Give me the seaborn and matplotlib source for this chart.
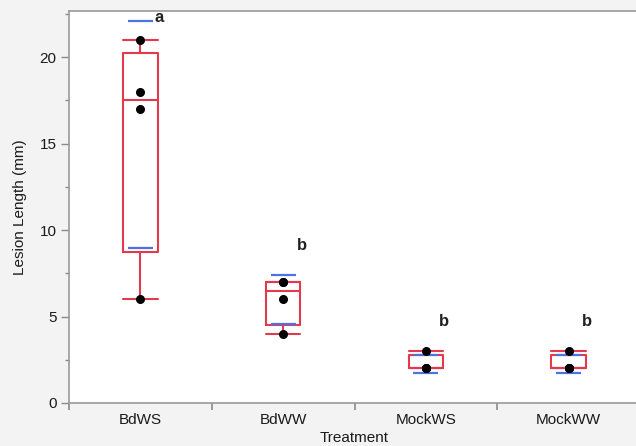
import numpy as np
import pandas as pd
import matplotlib
matplotlib.use("Agg")
from matplotlib import pyplot as plt
import seaborn as sns

treatments = ["BdWS", "BdWW", "MockWS", "MockWW"]
bdws = [6, 17, 18, 21]
bdww = [4, 6, 7, 7]
mockws = [2, 2, 2, 3]
mockww = [2, 2, 2, 3]
letters = ["a", "b", "b", "b"]

groups = [bdws, bdww, mockws, mockww]
df = pd.DataFrame({
    "Treatment": np.repeat(treatments, [len(g) for g in groups]),
    "Lesion": np.concatenate(groups),
})

red = "#e23a4c"
blue = "#4f72e3"

sns.set_style("white")
plt.rcParams["font.family"] = ["Liberation Sans", "DejaVu Sans"]

fig = plt.figure(figsize=(6.36, 4.46), dpi=100, facecolor="#f3f3f3")
ax = fig.add_axes([69 / 636, 43 / 446, 571 / 636, 392 / 446])
ax.set_facecolor("white")

# box stats, JMP style quantiles ((n+1)p)
stats = []
for name, g in zip(treatments, groups):
    g = np.array(g, dtype=float)
    q1, med, q3 = np.percentile(g, [25, 50, 75], method="weibull")
    iqr = q3 - q1
    lo = g[g >= q1 - 1.5 * iqr].min()
    hi = g[g <= q3 + 1.5 * iqr].max()
    stats.append(dict(label=name, q1=q1, med=med, q3=q3, whislo=lo, whishi=hi, fliers=[]))

lp = dict(color=red, linewidth=1.5)
ax.bxp(stats, positions=range(len(groups)), widths=0.24, capwidths=0.24,
       showfliers=False, boxprops=lp, whiskerprops=lp, capprops=lp, medianprops=lp,
       manage_ticks=False)

# mean +/- 1 sd lines
for i, g in enumerate(groups):
    m, s = np.mean(g), np.std(g, ddof=1)
    ax.hlines([m - s, m + s], i - 0.088, i + 0.088, color=blue, linewidth=1.6, zorder=3)

sns.stripplot(data=df, x="Treatment", y="Lesion", order=treatments, jitter=False,
              color="black", size=6.5, ax=ax, zorder=4)

top = 22.66
for i, (g, l) in enumerate(zip(groups, letters)):
    y = max(max(g), np.mean(g) + np.std(g, ddof=1)) + 1.7
    ax.text(i + 0.13, min(y, top - 0.4), l, fontsize=12, fontweight="bold",
            ha="center", va="center", color="#222222")

ax.set_xlim(-0.5, 3.5)
ax.set_ylim(0, top)
ax.set_yticks([0, 5, 10, 15, 20])
ax.set_yticks(np.arange(2.5, 22.6, 5), minor=True)
ax.set_xticks(range(len(treatments)))
ax.set_xticklabels(treatments)
ax.set_xticks([-0.5, 0.5, 1.5, 2.5], minor=True)

ax.tick_params(axis="y", which="major", direction="out", length=6, width=1,
               color="#8a8a8a", labelsize=11, labelcolor="#1a1a1a", pad=3, left=True)
ax.tick_params(axis="y", which="minor", direction="out", length=3, width=1,
               color="#8a8a8a", left=True)
ax.tick_params(axis="x", which="major", length=0, labelsize=11, labelcolor="#1a1a1a", pad=7)
ax.tick_params(axis="x", which="minor", direction="out", length=5, width=1.2,
               color="#8a8a8a", bottom=True)

for sp in ax.spines.values():
    sp.set_color("#9a9a9a")
    sp.set_linewidth(1.2)

ax.set_xlabel("Treatment", fontsize=11, color="#1a1a1a", labelpad=3)
ax.set_ylabel("Lesion Length (mm)", fontsize=11, color="#1a1a1a", labelpad=9)

fig.savefig("out.png", dpi=100, facecolor=fig.get_facecolor())
